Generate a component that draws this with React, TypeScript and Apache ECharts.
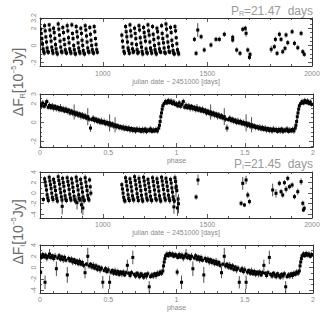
import React, { useEffect, useRef } from 'react';
import * as echarts from 'echarts';

type Pt = [number, number, number];

// ---------- text ----------
const xNameTime = 'julian date − 2451000 [days]';
const xNamePhase = 'phase';
const periodR = '21.47';
const periodI = '21.45';

// ---------- R band, folded light curve (phase, flux, error) ----------
const rPhase: Pt[] = [
  [0.0, 1.95, 0.3], [0.01, 1.75, 0.25], [0.02, 2.05, 0.3], [0.03, 1.7, 0.25], [0.04, 1.9, 0.35],
  [0.05, 2.2, 0.3], [0.06, 1.6, 0.25], [0.07, 1.8, 0.3], [0.08, 1.55, 0.25], [0.09, 1.75, 0.3],
  [0.1, 1.5, 0.35], [0.11, 1.7, 0.25], [0.12, 1.45, 0.3], [0.13, 1.6, 0.25], [0.14, 1.35, 0.3],
  [0.15, 1.55, 0.4], [0.16, 1.3, 0.25], [0.17, 1.45, 0.3], [0.18, 1.2, 0.25], [0.19, 1.4, 0.3],
  [0.2, 1.15, 0.3], [0.21, 1.3, 0.25], [0.22, 1.0, 0.3], [0.23, 1.2, 0.25], [0.24, 0.95, 0.3],
  [0.25, 1.1, 0.8], [0.26, 0.85, 0.3], [0.27, 1.0, 0.25], [0.28, 0.75, 0.3], [0.29, 0.9, 0.25],
  [0.3, 0.65, 0.35], [0.31, 0.8, 0.3], [0.32, 0.55, 0.25], [0.33, 0.7, 0.3], [0.34, 0.45, 0.25],
  [0.35, 0.6, 0.9], [0.36, 0.35, 0.3], [0.37, -0.6, 0.4], [0.38, 0.3, 0.25], [0.39, 0.45, 0.3],
  [0.4, 0.2, 0.3], [0.41, 0.35, 0.25], [0.42, 0.1, 0.3], [0.43, 0.25, 0.25], [0.44, 0.0, 0.3],
  [0.45, 0.15, 0.35], [0.46, -0.05, 0.25], [0.47, 0.1, 0.3], [0.48, -0.15, 0.25], [0.49, 0.0, 0.3],
  [0.5, -0.2, 0.3], [0.51, -0.05, 0.9], [0.52, -0.3, 0.3], [0.53, -0.15, 0.25], [0.54, -0.4, 0.3],
  [0.55, -0.25, 0.8], [0.56, -0.45, 0.3], [0.57, -0.35, 0.25], [0.58, -0.55, 0.3], [0.59, -0.45, 0.25],
  [0.6, -0.6, 0.3], [0.61, -0.5, 0.3], [0.62, -0.7, 0.25], [0.63, -0.55, 0.3], [0.64, -0.75, 0.25],
  [0.65, -0.6, 0.3], [0.66, -0.8, 0.3], [0.67, -0.65, 0.25], [0.68, -0.85, 0.3], [0.69, -0.7, 0.25],
  [0.7, -0.9, 0.3], [0.71, -0.7, 0.3], [0.72, -0.85, 0.25], [0.73, -0.75, 0.3], [0.74, -0.95, 0.25],
  [0.75, -0.75, 0.3], [0.76, -0.9, 0.3], [0.77, -0.7, 0.25], [0.78, -0.95, 0.3], [0.79, -0.8, 0.25],
  [0.8, -0.85, 0.3], [0.81, -0.7, 0.3], [0.82, -0.95, 0.25], [0.83, -0.8, 0.3], [0.84, -0.9, 0.25],
  [0.85, -0.75, 0.3], [0.86, -0.9, 0.3], [0.87, -0.6, 0.25], [0.875, -0.3, 0.3], [0.88, 0.1, 0.3],
  [0.885, 0.6, 0.35], [0.89, 1.0, 0.3], [0.895, 1.4, 0.3], [0.9, 1.75, 0.3], [0.91, 2.0, 0.25],
  [0.92, 2.2, 0.3], [0.93, 2.05, 0.25], [0.94, 2.3, 0.3], [0.95, 2.1, 0.25], [0.96, 2.25, 0.3],
  [0.97, 2.0, 0.25], [0.98, 2.15, 0.3], [0.99, 1.9, 0.25],
];

// ---------- I band, folded light curve ----------
const iPhase: Pt[] = [
  [0.0, 2.1, 0.5], [0.005, -0.8, 0.6], [0.01, 1.8, 0.4], [0.02, 2.3, 0.5], [0.03, 1.9, 0.4],
  [0.037, -2.6, 1.2], [0.04, 2.2, 0.5], [0.05, 1.7, 0.6], [0.06, 2.0, 0.4], [0.07, 2.4, 0.9],
  [0.08, 1.8, 0.5], [0.09, 2.1, 0.4], [0.1, 1.6, 0.5], [0.11, 2.0, 0.6], [0.12, -0.2, 1.3],
  [0.13, 1.7, 0.4], [0.14, 2.1, 0.5], [0.15, 1.5, 0.5], [0.16, 1.9, 0.4], [0.17, 1.4, 0.6],
  [0.18, 1.8, 0.5], [0.19, 1.3, 0.4], [0.2, -1.3, 1.4], [0.21, 1.6, 0.5], [0.22, 1.2, 0.4],
  [0.23, 1.5, 0.5], [0.24, 1.0, 0.6], [0.25, 1.4, 0.4], [0.26, 0.9, 0.5], [0.27, 1.2, 0.4],
  [0.28, 0.7, 0.5], [0.29, 1.1, 0.6], [0.3, 0.6, 0.4], [0.31, 0.9, 0.5], [0.32, 0.4, 0.5],
  [0.33, -0.9, 1.0], [0.34, 0.6, 0.4], [0.35, 2.0, 1.5], [0.36, 0.3, 0.5], [0.37, 0.6, 0.4],
  [0.38, 0.1, 0.5], [0.39, 0.4, 0.6], [0.4, -0.1, 0.4], [0.41, 0.3, 0.5], [0.42, -0.3, 0.5],
  [0.43, 0.1, 0.4], [0.44, -0.4, 0.6], [0.45, -0.1, 0.5], [0.46, -2.6, 1.1], [0.47, -0.5, 0.4],
  [0.48, -0.2, 0.5], [0.49, -0.7, 0.5], [0.5, -0.4, 0.6], [0.51, -2.6, 1.2], [0.52, -0.8, 0.5],
  [0.53, -0.5, 0.4], [0.54, -1.0, 0.5], [0.55, -0.6, 0.6], [0.56, -1.1, 0.4], [0.57, -0.7, 0.5],
  [0.58, -1.2, 0.5], [0.59, -0.8, 0.4], [0.6, -1.1, 0.6], [0.61, -0.8, 0.5], [0.62, -1.3, 0.4],
  [0.63, -0.9, 0.5], [0.64, 0.4, 1.0], [0.65, -1.0, 0.4], [0.66, -1.4, 0.5], [0.67, -0.9, 0.5],
  [0.68, 1.8, 1.2], [0.69, -1.2, 0.4], [0.7, -1.5, 0.5], [0.71, -1.0, 0.4], [0.72, -1.3, 0.6],
  [0.73, -1.6, 0.5], [0.74, -1.1, 0.4], [0.75, -1.4, 0.5], [0.76, -1.7, 0.5], [0.77, -1.2, 0.4],
  [0.78, -1.5, 0.6], [0.79, -1.1, 0.5], [0.8, -3.4, 1.0], [0.81, -1.6, 0.4], [0.82, -1.3, 0.5],
  [0.83, -1.5, 0.5], [0.84, -1.1, 0.4], [0.85, -1.4, 0.6], [0.86, -1.0, 0.5], [0.87, -1.2, 0.4],
  [0.88, -0.8, 0.5], [0.89, -1.0, 0.5], [0.9, -0.6, 0.6], [0.905, 0.3, 0.6], [0.91, 1.0, 0.5],
  [0.915, 1.6, 0.5], [0.92, 2.1, 0.4], [0.93, 2.4, 0.5], [0.94, 2.1, 0.4], [0.95, 2.5, 0.5],
  [0.96, 2.2, 0.4], [0.97, 2.4, 0.5], [0.98, 2.0, 0.4], [0.99, 2.3, 0.5],
];

// ---------- R band, time series (JD - 2451000, flux, error) ----------
const rTime: Pt[] = [
  [703, 1.9, 0.3], [706, 1.4, 0.25], [709, 0.8, 0.3], [712, 0.2, 0.35], [715, -0.4, 0.3], [718, -0.7, 0.25], [720, -0.9, 0.3],
  [722, 2.3, 0.3], [725, 1.7, 0.3], [728, 1.0, 0.25], [731, 0.4, 0.3], [734, -0.3, 0.3], [737, -0.7, 0.35], [740, -0.8, 0.3],
  [744, 2.4, 0.25], [747, 1.8, 0.3], [750, 1.1, 0.3], [753, 0.5, 0.3], [756, -0.2, 0.25], [759, -0.6, 0.3], [762, -0.9, 0.3],
  [765, 2.0, 0.3], [768, 1.5, 0.35], [771, 0.8, 0.3], [774, 0.1, 0.3], [777, -0.4, 0.3], [780, -0.8, 0.25], [783, -1.0, 0.3],
  [787, 2.5, 0.3], [790, 1.9, 0.3], [793, 1.2, 0.25], [796, 0.5, 0.3], [799, -0.2, 0.3], [802, -0.7, 0.3], [805, -0.8, 0.35],
  [809, 2.1, 0.3], [812, 1.5, 0.3], [815, 0.7, 0.3], [818, 0.1, 0.25], [821, -0.5, 0.3], [824, -0.8, 0.3], [827, -0.9, 0.3],
  [830, 2.3, 0.35], [833, 1.7, 0.3], [836, 0.9, 0.3], [839, 0.3, 0.3], [842, -0.4, 0.25], [845, -0.7, 0.3], [848, -0.9, 0.3],
  [852, 2.4, 0.3], [855, 1.4, 0.25], [858, 0.8, 0.3], [861, 0.0, 0.3], [864, -0.5, 0.3], [867, -0.9, 0.35], [870, -1.0, 0.3],
  [873, 2.2, 0.3], [876, 1.6, 0.3], [879, 1.0, 0.3], [882, 0.3, 0.25], [885, -0.3, 0.3], [888, -0.7, 0.3], [891, -0.9, 0.3],
  [895, 2.0, 0.3], [898, 1.4, 0.3], [901, 0.6, 0.35], [904, 0.0, 0.3], [907, -0.6, 0.3], [910, -0.9, 0.25], [913, -1.0, 0.3],
  [916, 2.3, 0.3], [919, 1.8, 0.25], [922, 1.1, 0.3], [925, 0.4, 0.3], [928, -0.3, 0.3], [931, -0.7, 0.3], [934, -0.8, 0.35],
  [938, 2.1, 0.3], [941, 1.3, 0.3], [944, 0.6, 0.3], [947, 0.0, 0.25], [950, -0.5, 0.3], [953, -0.8, 0.3], [956, -0.9, 0.3],
  [959, 2.2, 0.3], [962, 1.6, 0.3], [965, 0.8, 0.25], [968, 0.1, 0.3], [971, -0.5, 0.3], [974, -0.8, 0.3],
  [1091, 1.2, 0.3], [1094, 0.5, 0.3], [1097, -0.2, 0.25], [1101, -0.7, 0.3], [1104, -0.9, 0.3],
  [1109, 2.2, 0.3], [1112, 1.6, 0.3], [1115, 1.0, 0.35], [1118, 0.4, 0.3], [1121, -0.3, 0.3], [1124, -0.6, 0.25], [1127, -0.9, 0.3],
  [1130, 2.4, 0.3], [1133, 1.7, 0.3], [1136, 1.1, 0.3], [1139, 0.2, 0.25], [1142, -0.4, 0.3], [1145, -0.8, 0.3], [1148, -0.7, 0.3],
  [1152, 2.0, 0.3], [1155, 1.4, 0.25], [1158, 0.8, 0.3], [1161, 0.1, 0.3], [1164, -0.5, 0.35], [1167, -0.9, 0.3], [1170, -0.8, 0.3],
  [1173, 2.3, 0.3], [1176, 1.8, 0.3], [1179, 0.9, 0.3], [1182, 0.3, 0.3], [1185, -0.2, 0.25], [1188, -0.7, 0.3], [1191, -1.0, 0.3],
  [1195, 2.1, 0.3], [1198, 1.5, 0.3], [1201, 1.0, 0.25], [1204, 0.5, 0.3], [1207, -0.4, 0.3], [1210, -0.8, 0.3], [1213, -0.9, 0.35],
  [1216, 2.4, 0.3], [1219, 1.7, 0.3], [1222, 1.2, 0.3], [1225, 0.4, 0.3], [1228, -0.3, 0.25], [1231, -0.6, 0.3], [1234, -0.9, 0.3],
  [1238, 2.2, 0.3], [1241, 1.3, 0.3], [1244, 0.7, 0.35], [1247, 0.0, 0.3], [1250, -0.5, 0.3], [1253, -0.8, 0.25], [1256, -1.0, 0.3],
  [1259, 2.0, 0.3], [1262, 1.6, 0.3], [1265, 0.9, 0.3], [1268, 0.2, 0.3], [1271, -0.4, 0.3], [1274, -0.7, 0.3], [1277, -0.8, 0.25],
  [1281, 2.3, 0.3], [1284, 1.4, 0.3], [1287, 0.8, 0.3], [1290, 0.3, 0.25], [1293, -0.3, 0.3], [1296, -0.8, 0.3], [1299, -0.9, 0.3],
  [1302, 2.5, 0.3], [1305, 1.9, 0.35], [1308, 1.1, 0.3], [1311, 0.4, 0.3], [1314, -0.2, 0.3], [1317, -0.7, 0.3], [1320, -0.8, 0.25],
  [1324, 2.1, 0.3], [1327, 1.5, 0.3], [1330, 0.6, 0.3], [1333, 0.0, 0.3], [1336, -0.6, 0.35], [1339, -0.9, 0.3], [1342, -1.0, 0.3],
  [1345, 2.2, 0.3], [1348, 1.7, 0.3], [1351, 0.9, 0.25], [1354, 0.2, 0.3], [1357, -0.5, 0.3], [1360, -0.8, 0.3], [1363, -1.0, 0.3],
  [1438, 0.71, 0.3], [1446, -0.92, 0.3], [1454, 1.8, 0.8], [1470, 1.02, 0.3], [1485, -0.53, 0.3],
  [1517, 0.05, 0.3], [1541, 0.71, 0.3], [1557, 0.71, 0.3], [1581, 1.3, 0.3], [1621, 0.95, 0.3],
  [1621, 0.63, 0.3], [1640, -0.53, 0.3], [1656, -0.92, 0.3], [1669, 1.88, 0.3], [1681, 2.0, 0.3],
  [1685, 1.41, 0.4], [1693, -0.53, 0.3], [1701, -1.39, 0.3], [1704, -1.04, 0.3],
  [1805, -0.45, 0.4], [1820, -0.15, 0.3], [1825, 0.71, 0.3], [1833, -0.92, 0.3], [1844, 1.3, 0.3],
  [1852, 0.71, 0.3], [1860, -0.73, 0.3], [1871, -0.34, 0.3], [1876, 1.22, 0.3], [1884, 0.32, 0.3],
  [1905, 1.6, 0.3], [1916, 0.25, 0.3], [1932, -0.27, 0.3], [1948, 1.41, 0.3], [1956, -0.73, 0.3],
  [1963, -1.04, 0.3],
];

// ---------- I band, time series ----------
const iTime: Pt[] = [
  [716, -1.2, 0.5], [722, 2.7, 0.5], [725, 2.1, 0.6], [728, 1.4, 0.5], [731, 0.6, 0.5], [734, -0.3, 0.6], [737, -0.9, 0.5], [740, -1.4, 0.5],
  [744, 3.0, 0.5], [747, 2.3, 0.5], [750, 1.6, 0.6], [753, 0.9, 0.5], [756, 0.0, 0.5], [759, -0.8, 0.5], [762, -1.2, 0.6],
  [765, 2.6, 0.5], [768, 2.0, 0.5], [771, 1.2, 0.5], [774, 0.5, 0.6], [777, -0.4, 0.5], [780, -1.0, 0.5], [783, -1.5, 0.5],
  [787, 3.1, 0.6], [790, 2.4, 0.5], [793, 1.7, 0.5], [796, 0.8, 0.5], [799, 0.1, 0.6], [802, -0.7, 0.5], [805, -1.3, 0.5], [806, -2.5, 1.5],
  [808, 2.8, 0.5], [811, 2.0, 0.6], [814, 1.3, 0.5], [817, 0.4, 0.5], [820, -0.5, 0.5], [823, -1.1, 0.6], [826, -1.4, 0.5],
  [830, 2.9, 0.5], [833, 2.2, 0.5], [836, 1.5, 0.5], [839, 0.7, 0.6], [842, -0.2, 0.5], [845, -0.9, 0.5], [848, -1.3, 0.5],
  [851, 2.7, 0.5], [854, 1.9, 0.6], [857, 1.1, 0.5], [860, 0.3, 0.5], [863, -0.6, 0.5], [866, -1.2, 0.5], [869, -1.5, 0.6],
  [873, 3.0, 0.5], [876, 2.3, 0.5], [877, -1.8, 1.3], [879, 1.4, 0.5], [882, 0.6, 0.5], [885, -0.3, 0.6], [888, -1.0, 0.5], [891, -1.3, 0.5],
  [894, 2.6, 0.5], [897, 1.8, 0.5], [898, -2.2, 1.6], [900, 1.0, 0.6], [903, 0.2, 0.5], [905, -2.8, 1.4], [906, -0.7, 0.5], [909, -1.2, 0.5], [912, -1.4, 0.5],
  [916, 2.9, 0.6], [919, 2.1, 0.5], [922, 1.3, 0.5], [925, 0.5, 0.5], [928, -0.4, 0.6], [931, -1.0, 0.5], [934, -1.3, 0.5],
  [937, 2.5, 0.5], [940, 1.2, 0.5], [943, 0.0, 0.6],
  [1091, 1.6, 0.5], [1094, 0.8, 0.5], [1097, 0.0, 0.6], [1100, -0.8, 0.5], [1103, -1.3, 0.5], [1106, -1.5, 0.5],
  [1109, 2.9, 0.5], [1112, 2.2, 0.6], [1115, 1.4, 0.5], [1118, 0.6, 0.5], [1121, -0.3, 0.5], [1124, -1.0, 0.6], [1127, -1.4, 0.5],
  [1130, 2.7, 0.5], [1133, 2.0, 0.5], [1136, 1.2, 0.6], [1139, 0.4, 0.5], [1142, -0.5, 0.5], [1145, -1.1, 0.5], [1148, -1.3, 0.6],
  [1152, 3.1, 0.5], [1155, 2.4, 0.5], [1158, 1.6, 0.5], [1161, 0.8, 0.6], [1164, -0.1, 0.5], [1167, -0.8, 0.5], [1170, -1.4, 0.5],
  [1173, 2.8, 0.6], [1176, 2.1, 0.5], [1179, 1.3, 0.5], [1182, 0.5, 0.5], [1185, -0.4, 0.6], [1188, -1.1, 0.5], [1191, -1.5, 0.5],
  [1195, 3.0, 0.5], [1198, 2.3, 0.6], [1201, 1.5, 0.5], [1204, 0.7, 0.5], [1207, -0.2, 0.5], [1210, -0.9, 0.6], [1213, -1.3, 0.5],
  [1216, 2.6, 0.5], [1219, 1.9, 0.5], [1222, 1.1, 0.6], [1225, 0.3, 0.5], [1228, -0.6, 0.5], [1231, -1.2, 0.5], [1234, -1.4, 0.6],
  [1238, 2.9, 0.5], [1241, 2.2, 0.5], [1244, 1.4, 0.5], [1247, 0.6, 0.6], [1250, -0.3, 0.5], [1253, -1.0, 0.5], [1256, -1.3, 0.5],
  [1259, 2.7, 0.6], [1262, 2.0, 0.5], [1265, 1.2, 0.5], [1268, 0.4, 0.5], [1271, -0.5, 0.6], [1274, -1.1, 0.5], [1277, -1.5, 0.5],
  [1281, 3.0, 0.5], [1284, 2.3, 0.6], [1287, 1.5, 0.5], [1290, 0.7, 0.5], [1293, -0.2, 0.5], [1296, -0.9, 0.6], [1299, -1.3, 0.5],
  [1302, 2.8, 0.5], [1305, 2.1, 0.5], [1308, 1.3, 0.6], [1311, 0.5, 0.5], [1314, -0.4, 0.5], [1317, -1.0, 0.5], [1320, -1.4, 0.6],
  [1324, 2.6, 0.5], [1327, 1.9, 0.5], [1330, 1.0, 0.5], [1333, 0.2, 0.6], [1336, -0.7, 0.5], [1339, -1.2, 0.5], [1340, -2.6, 1.3], [1342, -1.5, 0.5],
  [1345, 2.9, 0.6], [1348, 2.2, 0.5], [1350, 1.0, 1.8], [1351, 1.3, 0.5], [1354, 0.5, 0.5], [1357, -2.8, 1.5], [1360, -1.1, 0.5], [1362, -2.0, 1.8],
  [1446, -0.73, 0.5], [1455, 2.49, 1.0],
  [1661, -1.92, 0.5], [1669, 1.85, 1.2], [1677, -2.24, 0.4], [1685, 2.49, 0.8], [1693, -0.35, 0.6], [1701, -1.6, 0.5],
  [1812, 0.6, 1.2], [1828, -0.03, 0.8], [1844, 1.86, 0.5], [1852, 0.28, 0.5], [1860, -0.35, 0.5], [1868, 1.98, 0.5],
  [1876, 0.73, 0.6], [1884, 2.8, 0.5], [1892, 1.22, 0.5], [1905, 1.54, 0.5], [1916, -0.66, 0.5], [1932, 0.28, 0.6],
  [1948, 2.17, 0.6], [1956, -1.92, 0.5], [1959, -3.18, 0.4], [1963, -2.86, 0.5],
];

const FONT = 'Liberation Sans, Arial, sans-serif';
const LABEL_GRAY = '#8a8a8a';
const FRAME = '#333';

function foldTwice(d: Pt[]): Pt[] {
  return d.concat(d.map((p) => [p[0] + 1, p[1], p[2]] as Pt));
}

function renderPoint(_params: any, api: any) {
  const x = api.value(0);
  const y = api.value(1);
  const e = api.value(2);
  const c = api.coord([x, y]);
  const top = api.coord([x, y + e]);
  const bot = api.coord([x, y - e]);
  const s = 3;
  return {
    type: 'group',
    children: [
      {
        type: 'line',
        shape: { x1: c[0], y1: top[1], x2: c[0], y2: bot[1] },
        style: { stroke: '#222', lineWidth: 0.8 },
      },
      {
        type: 'rect',
        shape: { x: c[0] - s / 2, y: c[1] - s / 2, width: s, height: s },
        style: { fill: '#000' },
      },
    ],
  };
}

const plainNumber = (v: number) => String(v);

function xAxes(gi: number, min: number, max: number, step: number, minorSplit: number,
  name: string, nameGap: number, labelMargin: number, showMin: boolean) {
  const base: any = {
    type: 'value', gridIndex: gi, min, max, minInterval: step, maxInterval: step, splitNumber: 3,
    splitLine: { show: false },
    axisLine: { show: true, onZero: false, lineStyle: { color: FRAME, width: 1 } },
    axisTick: { show: true, inside: true, length: 4, lineStyle: { color: FRAME, width: 0.8 } },
    minorTick: { show: true, splitNumber: minorSplit, length: 2, lineStyle: { color: FRAME, width: 0.8 } },
    minorSplitLine: { show: false },
  };
  return [
    {
      ...base, position: 'bottom', name, nameLocation: 'middle', nameGap,
      nameTextStyle: { fontSize: 7, color: LABEL_GRAY, fontFamily: FONT },
      axisLabel: {
        show: true, margin: labelMargin, fontSize: 7, color: LABEL_GRAY, fontFamily: FONT,
        showMinLabel: showMin, showMaxLabel: true, formatter: plainNumber,
      },
    },
    { ...base, position: 'top', axisLabel: { show: false } },
  ];
}

function yAxes(gi: number, min: number, max: number, minorSplit: number) {
  const base: any = {
    type: 'value', gridIndex: gi, min, max, minInterval: 2, maxInterval: 2, splitNumber: 3,
    splitLine: { show: false },
    axisLine: { show: true, onZero: false, lineStyle: { color: FRAME, width: 1 } },
    axisTick: { show: true, inside: true, length: 4, lineStyle: { color: FRAME, width: 0.8 } },
    minorTick: { show: true, splitNumber: minorSplit, length: 2, lineStyle: { color: FRAME, width: 0.8 } },
    minorSplitLine: { show: false },
  };
  return [
    {
      ...base, position: 'left',
      axisLabel: {
        show: true, rotate: 90, margin: 3, fontSize: 7, color: LABEL_GRAY, fontFamily: FONT,
        showMinLabel: false, showMaxLabel: true, formatter: plainNumber,
      },
    },
    { ...base, position: 'right', axisLabel: { show: false } },
  ];
}

function titleText(sub: string, period: string, y: number) {
  return {
    type: 'text', x: 313, y,
    style: {
      text: `{p|P}{s|${sub}}{p|=${period}  days}`,
      align: 'right', verticalAlign: 'middle',
      rich: {
        p: { fontSize: 12, lineHeight: 12, fill: '#9a9a9a', fontFamily: FONT },
        s: { fontSize: 7, lineHeight: 6, fill: '#9a9a9a', fontFamily: FONT, verticalAlign: 'bottom' },
      },
    },
  };
}

function yTitle(sub: string, y: number) {
  return {
    type: 'text', x: 18, y, rotation: Math.PI / 2,
    style: {
      text: `{d|ΔF}{s|${sub}}{d|[10}{p|−5}{d|Jy]}`,
      align: 'center', verticalAlign: 'middle',
      rich: {
        d: { fontSize: 14, lineHeight: 16, fill: '#6a6a6a', fontFamily: FONT },
        s: { fontSize: 7, lineHeight: 7, fill: '#6a6a6a', fontFamily: FONT, verticalAlign: 'bottom' },
        p: { fontSize: 7, lineHeight: 7, fill: '#6a6a6a', fontFamily: FONT, verticalAlign: 'top' },
      },
    },
  };
}

export default function App() {
  const ref = useRef<HTMLDivElement>(null);
  useEffect(() => {
    if (!ref.current) return;
    const chart = echarts.init(ref.current, undefined, { renderer: 'svg' });
    const grids = [
      { left: 40, top: 18, width: 272, height: 48 },
      { left: 40, top: 94, width: 273, height: 53 },
      { left: 40, top: 172, width: 272, height: 46 },
      { left: 40, top: 245, width: 273, height: 48 },
    ];
    const xAxis = [
      ...xAxes(0, 700, 2000, 500, 5, xNameTime, 12, 4, false),
      ...xAxes(1, 0, 2, 0.5, 5, xNamePhase, 10, 2, true),
      ...xAxes(2, 700, 2000, 500, 5, xNameTime, 11, 3, false),
      ...xAxes(3, 0, 2, 0.5, 5, xNamePhase, 11, 3, true),
    ];
    const yAxis = [
      ...yAxes(0, -2.4, 3.2, 4),
      ...yAxes(1, -2.6, 3.0, 4),
      ...yAxes(2, -4.7, 4, 2),
      ...yAxes(3, -4.5, 4, 2),
    ];
    const mk = (gi: number, data: Pt[]) => ({
      type: 'custom', xAxisIndex: gi * 2, yAxisIndex: gi * 2, clip: true, silent: true,
      encode: { x: 0, y: 1 }, data, renderItem: renderPoint,
    });
    chart.setOption({
      animation: false,
      backgroundColor: '#fff',
      grid: grids.map((g) => ({ ...g, containLabel: false })),
      xAxis,
      yAxis,
      series: [
        mk(0, rTime),
        mk(1, foldTwice(rPhase)),
        mk(2, iTime),
        mk(3, foldTwice(iPhase)),
      ],
      graphic: [
        titleText('R', periodR, 11),
        titleText('I', periodI, 164),
        yTitle('R', 82),
        yTitle('I', 232),
      ],
    } as any);
    return () => chart.dispose();
  }, []);
  return <div ref={ref} style={{ position: 'absolute', left: 0, top: 0, width: 332, height: 332 }} />;
}
